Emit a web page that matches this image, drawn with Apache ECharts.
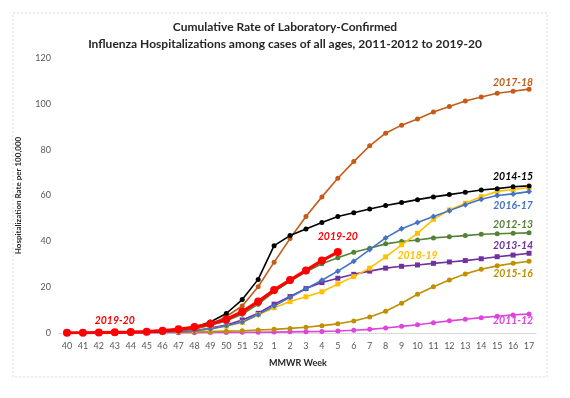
<!DOCTYPE html>
<html>
<head>
<meta charset="utf-8">
<script src="https://cdn.jsdelivr.net/npm/echarts@6/dist/echarts.min.js"></script>
<style>
  html, body { margin: 0; padding: 0; background: #fff; }
  #chart { width: 570px; height: 398px; }
</style>
</head>
<body>
<div id="chart"></div>
<script>
// MMWR weeks, season runs week 40 through week 17
const WEEKS = ['40', '41', '42', '43', '44', '45', '46', '47', '48', '49', '50', '51', '52',
  '1', '2', '3', '4', '5', '6', '7', '8', '9', '10', '11', '12', '13', '14', '15', '16', '17'];
const Y_TICKS = [0, 20, 40, 60, 80, 100, 120];

// cumulative rate per 100,000, one array per season
const S2011_12 = [0, 0, 0, 0, 0, 0, 0.1, 0.1, 0.1, 0.2, 0.2, 0.3, 0.3,
  0.4, 0.5, 0.6, 0.7, 0.9, 1.2, 1.6, 2.2, 2.9, 3.6, 4.5, 5.3, 6.0, 6.7, 7.3, 7.9, 8.3];
const S2012_13 = [0, 0.1, 0.1, 0.2, 0.3, 0.4, 0.6, 1.0, 1.8, 3.4, 5.3, 8.2, 12.6,
  18.0, 22.5, 26.7, 30.2, 32.8, 35.2, 37.0, 38.9, 39.9, 40.6, 41.5, 42.0, 42.5, 43.1, 43.3, 43.5, 43.7];
const S2013_14 = [0, 0, 0.1, 0.1, 0.1, 0.2, 0.3, 0.5, 1.0, 2.2, 3.5, 5.7, 8.6,
  12.6, 15.9, 19.4, 22.0, 23.9, 25.6, 27.0, 28.3, 29.1, 29.7, 30.4, 31.0, 31.6, 32.4, 33.3, 34.0, 34.8];
const S2014_15 = [0.1, 0.1, 0.2, 0.2, 0.3, 0.5, 0.7, 1.3, 2.5, 4.8, 8.5, 14.6, 23.4,
  38.1, 42.5, 45.4, 48.2, 50.8, 52.5, 54.1, 55.6, 56.9, 58.2, 59.4, 60.4, 61.4, 62.4, 63.0, 63.8, 64.2];
const S2015_16 = [0, 0, 0.1, 0.1, 0.2, 0.2, 0.3, 0.4, 0.5, 0.6, 0.8, 1.0, 1.3,
  1.6, 2.0, 2.5, 3.2, 4.0, 5.2, 7.0, 9.5, 13.0, 16.9, 20.2, 23.1, 25.8, 27.8, 29.3, 30.4, 31.3];
const S2016_17 = [0, 0.1, 0.1, 0.1, 0.2, 0.3, 0.4, 0.6, 1.0, 1.8, 3.2, 4.8, 8.0,
  11.8, 15.6, 19.3, 23.0, 27.0, 31.3, 36.4, 41.5, 45.5, 48.2, 50.8, 53.4, 56.0, 58.4, 60.0, 60.7, 61.7];
const S2017_18 = [0.1, 0.1, 0.1, 0.2, 0.2, 0.3, 0.5, 0.9, 1.8, 3.6, 7.2, 11.8, 20.2,
  30.9, 41.2, 50.8, 59.4, 67.5, 74.8, 81.7, 87.2, 90.7, 93.4, 96.4, 98.8, 101.2, 103.0, 104.6, 105.5, 106.4];
const S2018_19 = [0, 0.1, 0.1, 0.1, 0.2, 0.3, 0.4, 0.6, 1.0, 1.8, 3.0, 4.6, 8.0,
  11.0, 13.7, 15.8, 18.0, 21.4, 24.6, 28.3, 33.2, 38.5, 43.5, 49.6, 53.7, 56.6, 59.5, 61.8, 62.6, 63.5];
const S2019_20 = [0.1, 0.1, 0.2, 0.3, 0.4, 0.6, 1.0, 1.6, 2.6, 4.0, 5.9, 9.3, 13.7,
  18.8, 23.1, 27.3, 31.6, 35.3];

// season tags drawn inside the plot: [text, week index, value, colour]
const TAGS = [
  ['2017-18', 27.9, 109.2, '#C65B17'],
  ['2014-15', 28.3, 68.1, '#000000'],
  ['2016-17', 28.2, 55.5, '#4472C4'],
  ['2012-13', 28.2, 47.2, '#548235'],
  ['2013-14', 28.05, 38.0, '#7030A0'],
  ['2015-16', 28.2, 25.8, '#BF9000'],
  ['2011-12', 28.05, 5.2, '#DD44DD'],
  ['2019-20', 17.36, 41.9, '#FF0000'],
  ['2018-19', 21.76, 33.6, '#FFC000'],
  ['2019-20', 2.9, 5.2, '#FF0000'],
];

const FONT = 'Lato, "Liberation Sans", sans-serif';

function season(name, data, color, symbol, opts = {}) {
  return {
    name, type: 'line', data,
    symbol, symbolSize: opts.size || 5,
    lineStyle: { color, width: opts.width || 1.6 },
    itemStyle: { color },
    z: opts.z || 2,
    animation: false,
  };
}

const chart = echarts.init(document.getElementById('chart'));
chart.setOption({
  animation: false,
  title: {
    text: 'Cumulative Rate of Laboratory-Confirmed\nInfluenza Hospitalizations among cases of all ages, 2011-2012 to 2019-20',
    left: 280, top: 14, textAlign: 'center',
    textStyle: { fontFamily: FONT, fontSize: 12, fontWeight: 'bold', color: '#262626', lineHeight: 17 },
  },
  grid: { left: 59, right: 33, top: 58, bottom: 65 },
  xAxis: {
    type: 'category', data: WEEKS, boundaryGap: true,
    name: 'MMWR Week', nameLocation: 'middle', nameGap: 26,
    nameTextStyle: { fontFamily: FONT, fontSize: 9, fontWeight: 'bold', color: '#262626' },
    axisLine: { lineStyle: { color: '#D0D0D0', type: 'dotted' } },
    axisTick: { show: false },
    axisLabel: { fontFamily: FONT, fontSize: 9, color: '#595959', margin: 9 },
  },
  yAxis: {
    type: 'value', min: Y_TICKS[0], max: Y_TICKS[Y_TICKS.length - 1], interval: 20,
    name: 'Hospitalization Rate per 100,000', nameLocation: 'middle', nameGap: 37,
    nameTextStyle: { fontFamily: FONT, fontSize: 8, fontWeight: 'bold', color: '#262626' },
    axisLine: { show: false },
    axisTick: { show: false },
    splitLine: { show: false },
    axisLabel: { fontFamily: FONT, fontSize: 9, color: '#595959', margin: 8 },
  },
  series: [
    season('2011-12', S2011_12, '#DD44DD', 'circle'),
    season('2015-16', S2015_16, '#BF9000', 'circle'),
    season('2013-14', S2013_14, '#7030A0', 'rect'),
    season('2012-13', S2012_13, '#548235', 'circle'),
    season('2018-19', S2018_19, '#FFC000', 'rect'),
    season('2016-17', S2016_17, '#4472C4', 'diamond', { size: 6 }),
    season('2017-18', S2017_18, '#C65B17', 'circle'),
    season('2014-15', S2014_15, '#000000', 'circle'),
    season('2019-20', S2019_20, '#FF0000', 'circle', { size: 8, width: 3.2, z: 5 }),
  ],
});

// frame + season tags, placed through the chart's own axes
const tagEls = TAGS.map(([text, wk, val, color]) => {
  const [x, y] = chart.convertToPixel({ xAxisIndex: 0, yAxisIndex: 0 }, [wk, val]);
  return {
    type: 'text', x, y, z: 10,
    style: {
      text, fill: color, align: 'center', verticalAlign: 'middle',
      fontFamily: FONT, fontSize: 10.5, fontWeight: 'bold', fontStyle: 'italic',
    },
  };
});
chart.setOption({
  graphic: [
    {
      type: 'rect', z: -1, silent: true,
      shape: { x: 13, y: 13, width: 534, height: 364 },
      style: { fill: 'none', stroke: '#D9D9D9', lineWidth: 1, lineDash: [2, 2] },
    },
    ...tagEls,
  ],
});
</script>
</body>
</html>
